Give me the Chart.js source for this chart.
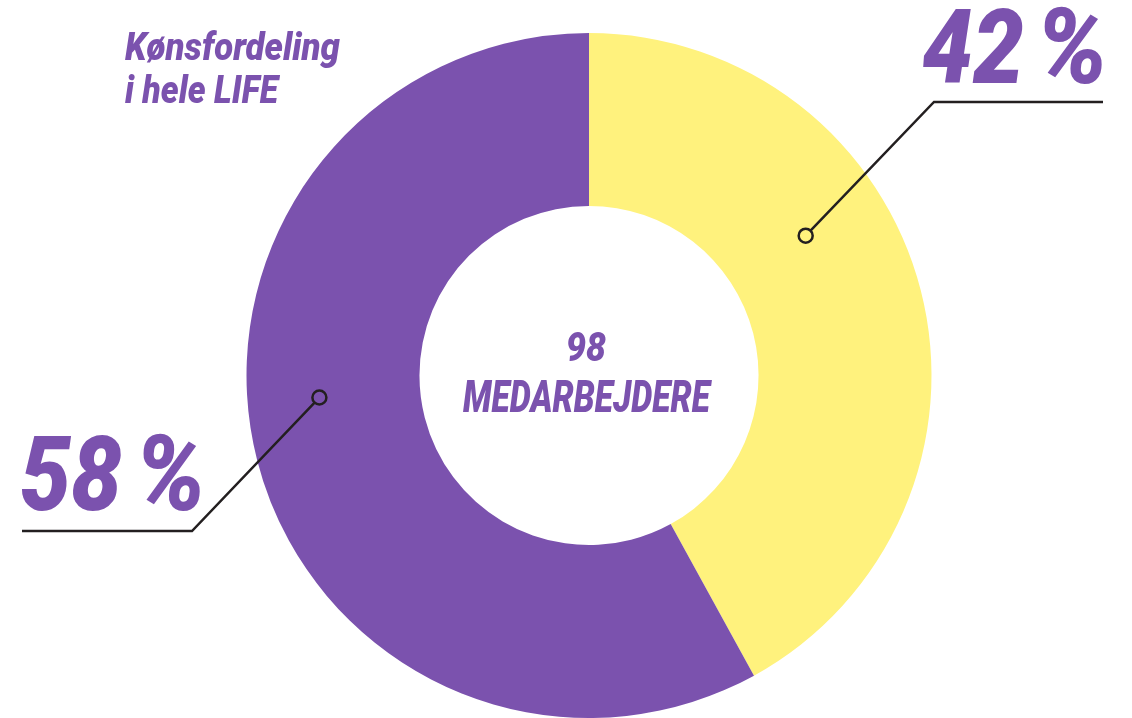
<!DOCTYPE html>
<html>
<head>
<meta charset="utf-8">
<script src="https://cdn.jsdelivr.net/npm/chart.js@4"></script>
<style>
  html, body { margin: 0; padding: 0; background: #fff; }
  #wrap { width: 1132px; height: 718px; position: relative; }
</style>
</head>
<body>
<div id="wrap"><canvas id="genderChart" width="1132" height="718"></canvas></div>
<script>
// Data
const labels = ['Kvinder', 'Mænd'];
const shares = [42, 58];
const colors = ['#FFF27D', '#7B52AE'];
const titleLines = ['Kønsfordeling', 'i hele LIFE'];
const centerLines = ['98', 'MEDARBEJDERE'];

const purple = '#7B52AE';
const fontFam = 'Roboto, "Noto Sans", sans-serif';

// condensed italic text: squeeze to a target width
function drawText(ctx, text, x, y, size, width) {
  ctx.save();
  ctx.font = 'italic 900 ' + size + 'px ' + fontFam;
  ctx.fillStyle = purple;
  ctx.textBaseline = 'alphabetic';
  const w = ctx.measureText(text).width;
  ctx.translate(x, y);
  ctx.scale(width / w, 1);
  ctx.fillText(text, 0, 0);
  ctx.restore();
}

const overlay = {
  id: 'overlay',
  afterDraw(chart) {
    const ctx = chart.ctx;
    const arc = chart.getDatasetMeta(0).data[0];
    const cx = arc.x, cy = arc.y, R = arc.outerRadius;

    // leader lines (positions relative to the doughnut)
    const leaders = [
      { dot: [217 / 343, -140 / 343], knee: [934, 102], end: [1103, 102] },
      { dot: [-270 / 343, 22 / 343], knee: [192, 531], end: [22, 531] }
    ];
    ctx.save();
    ctx.strokeStyle = '#231f20';
    ctx.lineWidth = 2.5;
    leaders.forEach(l => {
      const px = cx + l.dot[0] * R, py = cy + l.dot[1] * R;
      const dx = l.knee[0] - px, dy = l.knee[1] - py;
      const d = Math.hypot(dx, dy), r = 7;
      ctx.beginPath();
      ctx.moveTo(px + dx / d * r, py + dy / d * r);
      ctx.lineTo(l.knee[0], l.knee[1]);
      ctx.lineTo(l.end[0], l.end[1]);
      ctx.stroke();
      ctx.beginPath();
      ctx.arc(px, py, r, 0, Math.PI * 2);
      ctx.stroke();
    });
    ctx.restore();

    // big percentages (number and sign set tight)
    drawText(ctx, String(shares[0]), 922, 83, 103, 102);
    drawText(ctx, '%', 1036, 83, 106, 72);
    drawText(ctx, String(shares[1]), 20, 510, 103, 102);
    drawText(ctx, '%', 135, 510, 106, 71);

    // title
    drawText(ctx, titleLines[0], 125, 60, 38, 215);
    drawText(ctx, titleLines[1], 125, 103, 38, 153);

    // center text
    drawText(ctx, centerLines[0], 566, 361, 40, 40);
    drawText(ctx, centerLines[1], 463, 412, 45, 247);
  }
};

const genderChart = new Chart(document.getElementById('genderChart'), {
  type: 'doughnut',
  data: {
    labels: labels,
    datasets: [{
      data: shares,
      backgroundColor: colors,
      borderWidth: 0
    }]
  },
  options: {
    responsive: false,
    animation: false,
    cutout: '49.5%',
    layout: { padding: { top: 33, bottom: 0, left: 246, right: 200 } },
    plugins: {
      legend: { display: false },
      tooltip: { enabled: false }
    }
  },
  plugins: [overlay]
});
</script>
</body>
</html>
